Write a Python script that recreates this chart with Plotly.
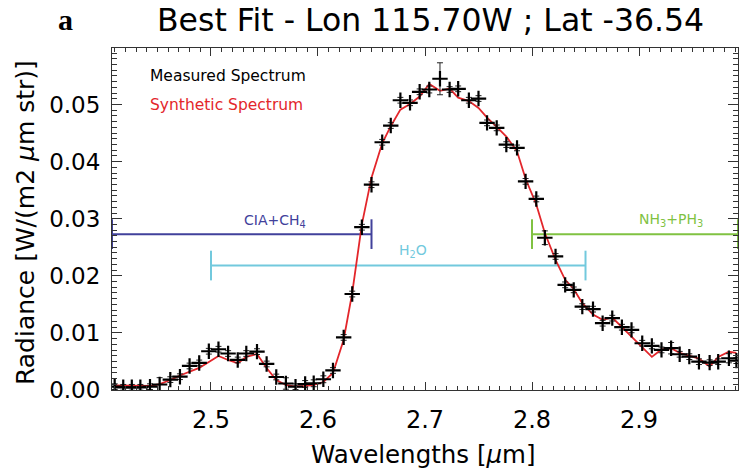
import plotly.graph_objects as go

# ---- data ----
wavelength = [2.410, 2.418, 2.426, 2.434, 2.443, 2.452, 2.462, 2.471, 2.480, 2.489,
              2.498, 2.507, 2.516, 2.525, 2.533, 2.543, 2.552, 2.561, 2.570, 2.579,
              2.588, 2.596, 2.605, 2.614, 2.624, 2.632, 2.641, 2.650, 2.660, 2.668,
              2.677, 2.686, 2.695, 2.704, 2.714, 2.723, 2.731, 2.741, 2.750, 2.758,
              2.767, 2.776, 2.786, 2.794, 2.804, 2.812, 2.822, 2.831, 2.839, 2.847,
              2.857, 2.866, 2.875, 2.884, 2.893, 2.903, 2.912, 2.921, 2.930, 2.938,
              2.947, 2.956, 2.966, 2.974, 2.984, 2.991]

measured = [0.00058, 0.00047, 0.00047, 0.00047, 0.00058, 0.00096, 0.00182, 0.00233, 0.00421, 0.00474,
            0.00679, 0.00714, 0.00639, 0.00526, 0.00639, 0.00672, 0.00456, 0.00228, 0.00114, 0.00058,
            0.00105, 0.00118, 0.00188, 0.00342, 0.00921, 0.01681, 0.02851, 0.03596, 0.04339, 0.04632,
            0.05075, 0.05030, 0.05223, 0.05263, 0.05451, 0.05263, 0.05275, 0.05075, 0.05105, 0.04679,
            0.04591, 0.04298, 0.04240, 0.03654, 0.03346, 0.02667, 0.02339, 0.01842, 0.01754, 0.01461,
            0.01416, 0.01170, 0.01258, 0.01100, 0.01053, 0.00819, 0.00772, 0.00702, 0.00732, 0.00626,
            0.00584, 0.00496, 0.00479, 0.00496, 0.00556, 0.00514]

measured_err = [0.0005, 0.0005, 0.0005, 0.0005, 0.0005, 0.0012, 0.0005, 0.0005, 0.0005, 0.0005,
                0.0005, 0.0005, 0.0005, 0.0005, 0.0005, 0.0005, 0.0005, 0.0005, 0.0010, 0.0005,
                0.0006, 0.0006, 0.0006, 0.0005, 0.0005, 0.0005, 0.0005, 0.0005, 0.0005, 0.0005,
                0.0005, 0.0005, 0.0005, 0.0006, 0.0028, 0.0005, 0.0005, 0.0005, 0.0005, 0.0005,
                0.0005, 0.0005, 0.0005, 0.0005, 0.0005, 0.0012, 0.0005, 0.0005, 0.0005, 0.0005,
                0.0005, 0.0005, 0.0005, 0.0005, 0.0005, 0.0005, 0.0005, 0.0005, 0.0010, 0.0005,
                0.0005, 0.0005, 0.0005, 0.0005, 0.0008, 0.0005]

synthetic = [0.00082, 0.00079, 0.00075, 0.00070, 0.00070, 0.00105, 0.00175, 0.00254, 0.00325, 0.00386,
             0.00491, 0.00596, 0.00526, 0.00468, 0.00579, 0.00632, 0.00386, 0.00175, 0.00088, 0.00061,
             0.00070, 0.00088, 0.00140, 0.00298, 0.0088, 0.0170, 0.0290, 0.0372, 0.0432, 0.0462,
             0.0491, 0.0501, 0.0514, 0.0536, 0.0524, 0.0528, 0.0512, 0.0506, 0.0494, 0.0477,
             0.0461, 0.0444, 0.0418, 0.0370, 0.0325, 0.0275, 0.0228, 0.0193, 0.0177, 0.0152,
             0.0132, 0.0123, 0.0127, 0.0110, 0.0093, 0.0075, 0.0058, 0.0071, 0.0073, 0.0065,
             0.0060, 0.0055, 0.0041, 0.0058, 0.0067, 0.0065]

# absorber bands: label, start, end, level
band_labels = ["CIA+CH<sub>4</sub>", "H<sub>2</sub>O", "NH<sub>3</sub>+PH<sub>3</sub>"]
band_start = [2.4075, 2.50, 2.80]
band_end = [2.65, 2.85, 2.9925]
band_level = [0.0273, 0.0218, 0.0273]
band_label_x = [2.560, 2.689, 2.930]
band_label_y = [0.0296, 0.0243, 0.0298]
band_colors = ["#41419b", "#72c9dd", "#80c242"]

x_range = [2.4075, 2.9925]
y_range = [0.0, 0.0599]

FONT = "DejaVu Sans"

fig = go.Figure()

for lab, s, e, lev, c in zip(band_labels, band_start, band_end, band_level, band_colors):
    fig.add_trace(go.Scatter(
        x=[s, e], y=[lev, lev], mode="lines",
        line=dict(color=c, width=2),
        error_y=dict(type="constant", value=0.0026, color=c, thickness=2, width=0),
        showlegend=False, hoverinfo="skip"))

fig.add_trace(go.Scatter(
    x=wavelength, y=synthetic, mode="lines",
    line=dict(color="#e3262b", width=1.8),
    showlegend=False))

fig.add_trace(go.Scatter(
    x=wavelength, y=measured, mode="markers",
    marker=dict(symbol="cross-thin", size=11, line=dict(color="black", width=2.2), color="black"),
    error_y=dict(type="data", array=measured_err, color="#222222", thickness=1, width=3),
    showlegend=False))

annotations = []
for lab, lx, ly, c in zip(band_labels, band_label_x, band_label_y, band_colors):
    annotations.append(dict(x=lx, y=ly, xref="x", yref="y", text=lab, showarrow=False,
                            font=dict(family=FONT, size=14, color=c), xanchor="center", yanchor="middle"))

annotations += [
    dict(x=0.0575, y=0.918, xref="paper", yref="paper", text="Measured Spectrum", showarrow=False,
         xanchor="left", yanchor="middle", font=dict(family=FONT, size=15.5, color="black")),
    dict(x=0.0575, y=0.833, xref="paper", yref="paper", text="Synthetic Spectrum", showarrow=False,
         xanchor="left", yanchor="middle", font=dict(family=FONT, size=15.5, color="#e3262b")),
    dict(x=0.508, y=1.082, xref="paper", yref="paper", text="Best Fit - Lon 115.70W ; Lat -36.54",
         showarrow=False, xanchor="center", yanchor="middle", font=dict(family=FONT, size=31.5, color="black")),
    dict(x=-0.075, y=1.082, xref="paper", yref="paper", text="<b>a</b>", showarrow=False,
         xanchor="center", yanchor="middle", font=dict(family="Liberation Serif", size=30, color="black")),
    dict(x=-0.139, y=0.491, xref="paper", yref="paper", text="Radiance [W/(m2 <i>μ</i>m str)]",
         showarrow=False, textangle=-90, xanchor="center", yanchor="middle",
         font=dict(family=FONT, size=25, color="black")),
    dict(x=0.497, y=-0.188, xref="paper", yref="paper", text="Wavelengths [<i>μ</i>m]",
         showarrow=False, xanchor="center", yanchor="middle", font=dict(family=FONT, size=24.5, color="black")),
]

fig.update_layout(
    width=739, height=474,
    margin=dict(l=112, r=1, t=48, b=84, autoexpand=False),
    paper_bgcolor="white", plot_bgcolor="white",
    annotations=annotations,
    showlegend=False,
)

fig.update_xaxes(
    range=x_range, tick0=2.5, dtick=0.1, tickformat=".1f", automargin=False,
    showgrid=False, zeroline=False,
    showline=True, linecolor="#333333", linewidth=1, mirror="ticks",
    ticks="inside", ticklen=8, tickcolor="#333333",
    minor=dict(ticks="inside", dtick=0.01, ticklen=4, tickcolor="#333333", showgrid=False),
    tickfont=dict(family=FONT, size=24, color="black"), ticklabelstandoff=8,
)
fig.update_yaxes(
    range=y_range, tick0=0, dtick=0.01, tickformat=".2f", automargin=False,
    showgrid=False, zeroline=False,
    showline=True, linecolor="#333333", linewidth=1, mirror="ticks",
    ticks="inside", ticklen=10, tickcolor="#333333",
    minor=dict(ticks="inside", dtick=0.001, ticklen=5, tickcolor="#333333", showgrid=False),
    tickfont=dict(family=FONT, size=23, color="black"), ticklabelstandoff=6,
)

fig.write_html("out.html", config={"displayModeBar": False},
               post_script="document.body.style.margin='0';document.body.style.overflow='hidden';")
